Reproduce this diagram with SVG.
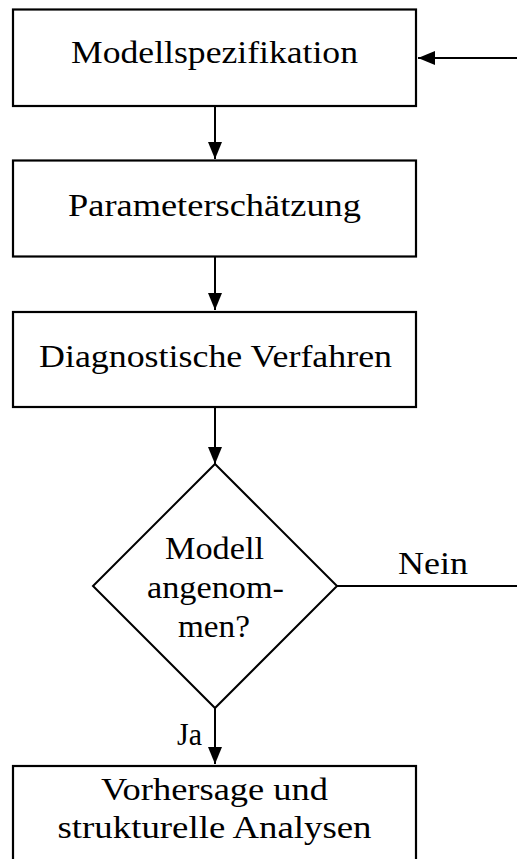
<svg xmlns="http://www.w3.org/2000/svg" width="517" height="859" viewBox="0 0 517 859">
<style>
.box{fill:#fff;stroke:#000;stroke-width:2.2}
.ln{fill:none;stroke:#000;stroke-width:2}
.t{font-family:"Liberation Serif","Times New Roman",serif;font-size:32px;fill:#000;text-anchor:middle}
</style>
<defs>
<marker id="ah" viewBox="0 0 17 14" refX="17" refY="7" markerWidth="17" markerHeight="14" markerUnits="userSpaceOnUse" orient="auto">
<path d="M0,0 L17,7 L0,14 Z" fill="#000"/>
</marker>
</defs>
<g id="connectors">
<line class="ln" x1="215" y1="107" x2="215" y2="159" marker-end="url(#ah)"/>
<line class="ln" x1="215" y1="257" x2="215" y2="310" marker-end="url(#ah)"/>
<line class="ln" x1="215" y1="408" x2="215" y2="464" marker-end="url(#ah)"/>
<line class="ln" x1="215" y1="708" x2="215" y2="764" marker-end="url(#ah)"/>
<polyline class="ln" points="337,586 517,586"/>
<line class="ln" x1="517" y1="58" x2="418" y2="58" marker-end="url(#ah)"/>
<text class="t" x="433" y="574" textLength="70" lengthAdjust="spacingAndGlyphs">Nein</text>
<text class="t" x="189.5" y="745" textLength="25" lengthAdjust="spacingAndGlyphs">Ja</text>
</g>
<g id="n1">
<rect class="box" x="13" y="9.5" width="403" height="96.5"/>
<text class="t" x="214.5" y="63" textLength="287" lengthAdjust="spacingAndGlyphs">Modellspezifikation</text>
</g>
<g id="n2">
<rect class="box" x="13" y="160.5" width="403" height="96"/>
<text class="t" x="214.5" y="215.5" textLength="293" lengthAdjust="spacingAndGlyphs">Parameterschätzung</text>
</g>
<g id="n3">
<rect class="box" x="13" y="312" width="403" height="95"/>
<text class="t" x="215.5" y="367" textLength="353" lengthAdjust="spacingAndGlyphs">Diagnostische Verfahren</text>
</g>
<g id="n4">
<polygon class="box" points="215,464 337,586 215,708 93,586" style="stroke-width:2"/>
<text class="t" x="214.5" y="559" textLength="99" lengthAdjust="spacingAndGlyphs">Modell</text>
<text class="t" x="215.5" y="598" textLength="137" lengthAdjust="spacingAndGlyphs">angenom-</text>
<text class="t" x="214" y="637" textLength="72" lengthAdjust="spacingAndGlyphs">men?</text>
</g>
<g id="n5">
<rect class="box" x="13" y="766" width="403" height="110"/>
<text class="t" x="214.5" y="800" textLength="227" lengthAdjust="spacingAndGlyphs">Vorhersage und</text>
<text class="t" x="214.5" y="838" textLength="314" lengthAdjust="spacingAndGlyphs">strukturelle Analysen</text>
</g>
</svg>
